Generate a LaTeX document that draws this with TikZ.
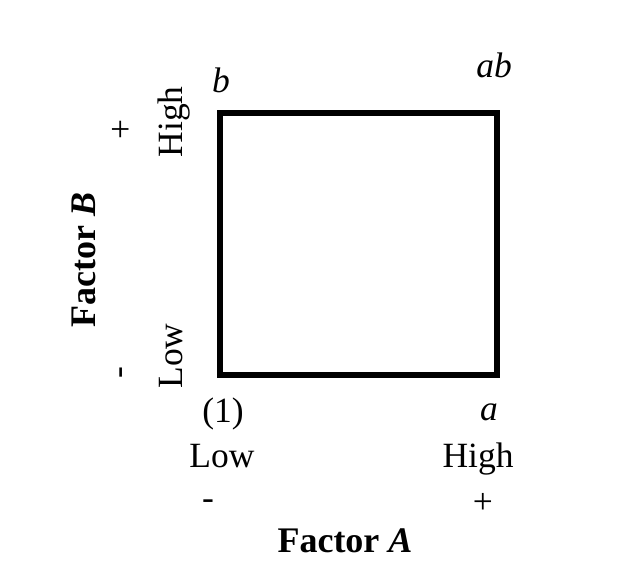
\documentclass[tikz,border=0pt]{standalone}
\usepackage{fontspec}
\setmainfont{Liberation Serif}
\begin{document}
\begin{tikzpicture}[x=1pt,y=-1pt,
  lbl/.style={inner sep=0pt,anchor=base,font=\fontsize{35.5}{40}\selectfont},
  ttl/.style={inner sep=0pt,anchor=base,font=\fontsize{36}{40}\selectfont\bfseries},
  sq/.style={line width=5.5pt,line join=miter}]
\useasboundingbox[fill=white] (0,0) rectangle (626,585);
\coordinate (c00) at (220,375);
\coordinate (c10) at (497,375);
\coordinate (c11) at (497,113);
\coordinate (c01) at (220,113);
\draw[sq] (c00) -- (c10) -- (c11) -- (c01) -- cycle;
\node[lbl] (nb) at (221,93) {\itshape b};
\node[lbl] (nab) at (494,78) {\itshape ab};
\node[lbl] (n1) at (223,422) {(1)};
\node[lbl] (na) at (489,420) {\itshape a};
\node[lbl] (alow) at (222,467) {Low};
\node[lbl] (ahigh) at (478,467) {High};
\node[lbl,anchor=center] (aminus) at (208,505) {-};
\node[lbl,anchor=center] (aplus) at (483,503) {+};
\node[ttl] (fa) at (345,552) {Factor \textit{A}};
\node[lbl,rotate=90] (bhigh) at (182,122) {High};
\node[lbl,rotate=90] (blow) at (182,356) {Low};
\node[lbl,anchor=center,rotate=90] (bplus) at (122,129) {+};
\node[lbl,anchor=center,rotate=90] (bminus) at (125,373) {-};
\node[ttl,rotate=90] (fb) at (95,260) {Factor \textit{B}};
\end{tikzpicture}
\end{document}
